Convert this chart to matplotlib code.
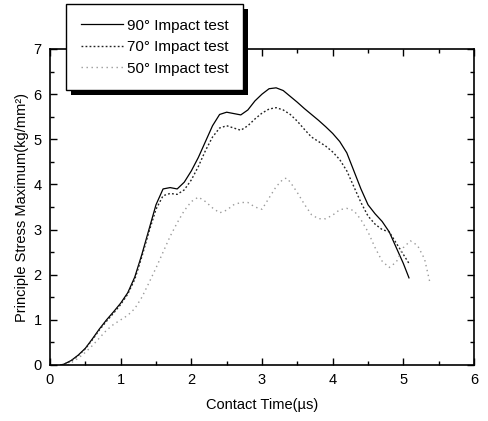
import matplotlib
matplotlib.use("Agg")
import matplotlib.pyplot as plt
from matplotlib.patches import Rectangle
from matplotlib.ticker import MultipleLocator

plt.rcParams['font.family'] = ['Liberation Sans', 'DejaVu Sans']

# ---- data ----
t90 = [0.15, 0.2, 0.3, 0.4, 0.5, 0.6, 0.7, 0.8, 0.9, 1.0, 1.1, 1.2, 1.3, 1.4, 1.5,
       1.6, 1.7, 1.8, 1.9, 2.0, 2.1, 2.2, 2.3, 2.4, 2.5, 2.6, 2.7, 2.8, 2.9, 3.0,
       3.1, 3.2, 3.3, 3.4, 3.5, 3.6, 3.7, 3.8, 3.9, 4.0, 4.1, 4.2, 4.3, 4.4, 4.5,
       4.6, 4.7, 4.8, 4.9, 5.0, 5.08]
s90 = [0.0, 0.02, 0.1, 0.22, 0.37, 0.58, 0.8, 1.0, 1.18, 1.37, 1.6, 1.95, 2.45, 3.0, 3.55,
       3.9, 3.93, 3.9, 4.05, 4.3, 4.6, 4.95, 5.3, 5.55, 5.6, 5.57, 5.54, 5.65, 5.85, 6.0,
       6.12, 6.14, 6.08, 5.95, 5.82, 5.68, 5.55, 5.42, 5.28, 5.13, 4.95, 4.7, 4.3, 3.9, 3.55,
       3.35, 3.18, 2.95, 2.6, 2.25, 1.93]

t70 = t90
s70 = [0.0, 0.02, 0.09, 0.21, 0.36, 0.56, 0.78, 0.97, 1.15, 1.34, 1.57, 1.9, 2.4, 2.95, 3.45,
       3.75, 3.8, 3.78, 3.88, 4.1, 4.4, 4.75, 5.05, 5.25, 5.3, 5.25, 5.2, 5.3, 5.45, 5.58,
       5.67, 5.7, 5.65, 5.55, 5.4, 5.22, 5.05, 4.95, 4.85, 4.72, 4.55, 4.3, 3.95, 3.6, 3.3,
       3.12, 3.0, 2.95, 2.7, 2.45, 2.25]

t50 = [0.25, 0.3, 0.4, 0.5, 0.6, 0.7, 0.8, 0.9, 1.0, 1.1, 1.2, 1.3, 1.4, 1.5, 1.6, 1.7,
       1.8, 1.9, 2.0, 2.1, 2.2, 2.3, 2.4, 2.5, 2.6, 2.7, 2.8, 2.9, 3.0, 3.1, 3.2, 3.3,
       3.35, 3.4, 3.5, 3.6, 3.7, 3.8, 3.9, 4.0, 4.1, 4.2, 4.3, 4.4, 4.5, 4.6, 4.7, 4.8,
       4.9, 5.0, 5.1, 5.2, 5.3, 5.38]
s50 = [0.0, 0.05, 0.15, 0.28, 0.43, 0.6, 0.77, 0.9, 1.0, 1.1, 1.25, 1.5, 1.82, 2.15, 2.5, 2.85,
       3.15, 3.42, 3.62, 3.72, 3.62, 3.48, 3.37, 3.43, 3.55, 3.6, 3.6, 3.5, 3.45, 3.7, 3.95, 4.12,
       4.14, 4.05, 3.82, 3.56, 3.33, 3.24, 3.24, 3.32, 3.44, 3.47, 3.42, 3.22, 2.95, 2.6, 2.3, 2.16,
       2.28, 2.6, 2.75, 2.65, 2.35, 1.8]

labels = ['90° Impact test', '70° Impact test', '50° Impact test']
x_ticks = [0, 1, 2, 3, 4, 5, 6]
y_ticks = [0, 1, 2, 3, 4, 5, 6, 7]

# ---- figure ----
W, H = 489, 421
fig = plt.figure(figsize=(W / 100, H / 100), dpi=100)
ax = fig.add_axes([50 / W, 1 - 365 / H, (474 - 50) / W, (365 - 49) / H])

l1, = ax.plot(t90, s90, color='black', lw=0.9, ls='-')
l2, = ax.plot(t70, s70, color='#222222', lw=1.0, ls=(0, (1.3, 1.6)))
l3, = ax.plot(t50, s50, color='#9a9a9a', lw=1.0, ls=(0, (1.0, 2.6)))

ax.set_xlim(0, 6)
ax.set_ylim(0, 7)
ax.set_xticks(x_ticks)
ax.set_yticks(y_ticks)
ax.xaxis.set_minor_locator(MultipleLocator(0.5))
ax.yaxis.set_minor_locator(MultipleLocator(0.5))
ax.tick_params(which='both', direction='in', top=True, right=True,
               labelsize=10.5, width=1.0, pad=6)
ax.tick_params(which='major', length=5)
ax.tick_params(which='minor', length=3)
for sp in ax.spines.values():
    sp.set_linewidth(1.2)

ax.set_xlabel('Contact Time(µs)', fontsize=10.5, labelpad=8)
ax.set_ylabel('Principle Stress Maximum(kg/mm²)', fontsize=10.5, labelpad=3)

leg = fig.legend([l1, l2, l3], labels, loc='upper left',
                 bbox_to_anchor=(66 / W, 1 - 4 / H), bbox_transform=fig.transFigure,
                 frameon=True, fancybox=False, shadow=False, fontsize=11,
                 handlelength=2.8, handletextpad=0.25, labelspacing=0.5,
                 borderpad=0.95, borderaxespad=0)
leg.get_frame().set_edgecolor('black')
leg.get_frame().set_linewidth(1.0)
leg.get_frame().set_alpha(1)
leg.set_zorder(5)

fig.canvas.draw()
bb = leg.get_window_extent().transformed(fig.transFigure.inverted())
off_x, off_y = 5 / W, 5 / H
shadow = Rectangle((bb.x0 + off_x, bb.y0 - off_y), bb.width, bb.height,
                   transform=fig.transFigure, facecolor='black', edgecolor='none',
                   zorder=4)
fig.add_artist(shadow)

fig.savefig('out.png', dpi=100)
